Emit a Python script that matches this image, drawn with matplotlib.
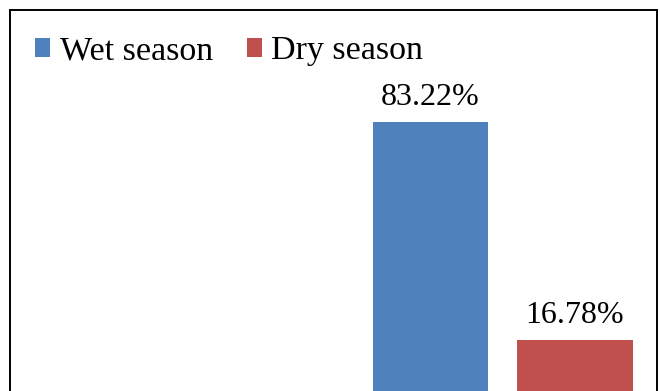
import matplotlib
matplotlib.use("Agg")
import matplotlib.pyplot as plt
from matplotlib.patches import Patch

plt.rcParams['font.family'] = ['Liberation Serif', 'DejaVu Serif']

series = ["Wet season", "Dry season"]
values = [83.22, 16.78]
labels = ["83.22%", "16.78%"]
colors = ["#4F81BD", "#C0504D"]

W, H = 660, 391
fig = plt.figure(figsize=(W / 100, H / 100), dpi=100)

# axes frame: left 10px, right 657px, top 10px, bottom at y=395px (below image)
left, right, top, bottom = 10, 657, 10, 395
ax = fig.add_axes([left / W, (H - bottom) / H, (right - left) / W, (bottom - top) / H])

xs = [0.0, 1.25]
bars = ax.bar(xs, values, width=1.0, color=colors)
ax.set_xlim(-3.641, 1.961)
ax.set_ylim(0, (bottom - top) / 3.281)

for b, lab in zip(bars, labels):
    ax.annotate(lab, (b.get_x() + b.get_width() / 2, b.get_height()),
                xytext=(0, 12.2), textcoords="offset points",
                ha="center", va="baseline", fontsize=23)

ax.set_xticks([])
ax.set_yticks([])
for s in ["left", "right", "top"]:
    ax.spines[s].set_linewidth(1.4)
    ax.spines[s].set_color("black")
ax.spines["bottom"].set_visible(False)

handles = [Patch(facecolor=c, edgecolor='none') for c in colors]
fig.legend(handles, series, loc="upper left",
           bbox_to_anchor=(35 / W, 1 - 36 / H), frameon=False, ncol=2,
           fontsize=24.5, handlelength=0.45, handleheight=0.45,
           handletextpad=0.27, columnspacing=1.0, borderpad=0, borderaxespad=0)

fig.savefig("out.png", dpi=100)
